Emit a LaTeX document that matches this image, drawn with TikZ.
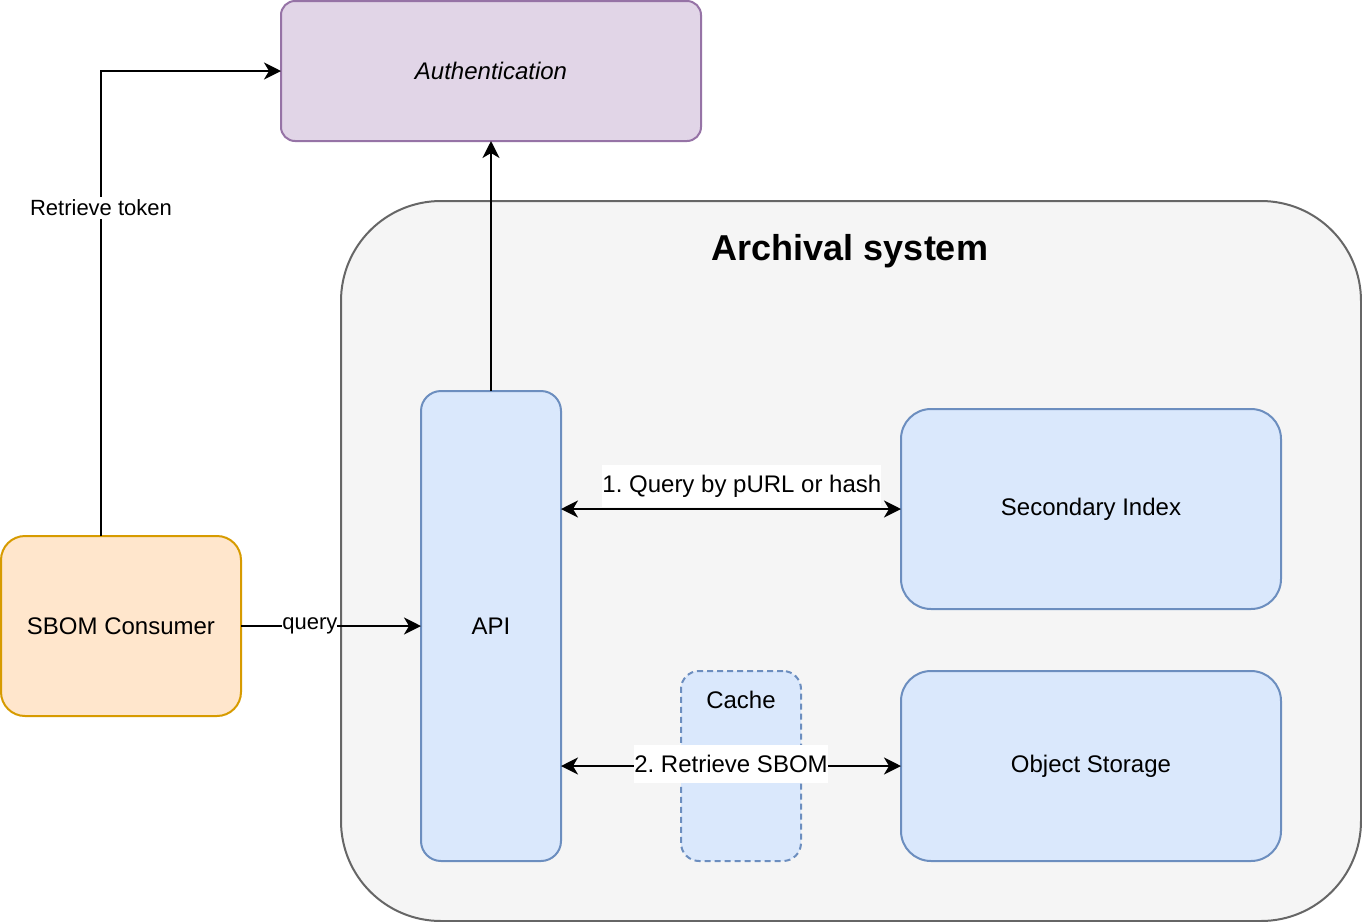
\documentclass[tikz,border=0pt]{standalone}
\usepackage{fontspec}
\setmainfont{Liberation Sans}
\usetikzlibrary{arrows.meta}
\definecolor{authfill}{HTML}{E1D5E7}
\definecolor{authline}{HTML}{9673A6}
\definecolor{sysfill}{HTML}{F5F5F5}
\definecolor{sysline}{HTML}{666666}
\definecolor{bluefill}{HTML}{DAE8FC}
\definecolor{blueline}{HTML}{6C8EBF}
\definecolor{orfill}{HTML}{FFE6CC}
\definecolor{orline}{HTML}{D79B00}
\tikzset{
  box/.style={rectangle, draw, line width=1pt, inner sep=0pt, outer sep=0pt, font=\fontsize{12}{14}\selectfont},
  bluebox/.style={box, fill=bluefill, draw=blueline},
  arr/.style={line width=1pt, -{Stealth[length=8.5pt, width=8.5pt, inset=2.5pt]}},
  darr/.style={line width=1pt, {Stealth[length=8.5pt, width=8.5pt, inset=2.5pt]}-{Stealth[length=8.5pt, width=8.5pt, inset=2.5pt]}},
  elabel/.style={fill=white, inner xsep=0pt, inner ysep=1.5pt, font=\fontsize{11}{13}\selectfont},
  biglabel/.style={fill=white, inner xsep=0pt, inner ysep=5pt, font=\fontsize{12}{14}\selectfont}
}
\begin{document}
\frenchspacing
\begin{tikzpicture}[x=0.5pt, y=-0.5pt]
\useasboundingbox[fill=white] (0,0) rectangle (1362,922);
% archival system container
\node[box, fill=sysfill, draw=sysline, minimum width=510pt, minimum height=360pt, rounded corners=50pt] (sys) at (851,561) {};
\node[font=\bfseries\fontsize{18}{21}\selectfont] (title) at (850,251) {Archival system};
% authentication
\node[box, fill=authfill, draw=authline, minimum width=210pt, minimum height=70pt, rounded corners=7pt, font=\itshape\fontsize{12}{14}\selectfont] (auth) at (491,71) {Authentication};
% API
\node[bluebox, minimum width=70pt, minimum height=235pt, rounded corners=10pt] (api) at (491,626) {API};
% Secondary index
\node[bluebox, minimum width=190pt, minimum height=100pt, rounded corners=15pt] (sec) at (1091,509) {Secondary Index};
% Object storage
\node[bluebox, minimum width=190pt, minimum height=95pt, rounded corners=15pt] (obj) at (1091,766) {Object Storage};
% Cache
\node[bluebox, dashed, dash pattern=on 3pt off 2pt, minimum width=60pt, minimum height=95pt, rounded corners=9pt] (cache) at (741,766) {};
\node[font=\fontsize{12}{14}\selectfont] (cachelbl) at (741,700) {Cache};
% SBOM consumer
\node[box, fill=orfill, draw=orline, minimum width=120pt, minimum height=90pt, rounded corners=12pt] (cons) at (121,626) {SBOM Consumer};
% connectors
\coordinate (tokstart) at ([xshift=-10pt]cons.north);
\draw[arr] (tokstart) |- node[elabel, pos=0.353, inner xsep=1pt] {Retrieve token} (auth.west);
\draw[arr] (api.north) -- (auth.south);
\draw[arr] (cons.east) -- node[elabel, pos=0.383, inner ysep=0pt, inner xsep=0pt] {query} (api.west);
\draw[darr] (api.east |- sec.west) -- node[biglabel, pos=0.532, yshift=11.5pt] {1. Query by pURL or hash} (sec.west);
\draw[darr] (api.east |- obj.west) -- node[biglabel, midway, yshift=1pt] {2. Retrieve SBOM} (obj.west);
\end{tikzpicture}
\end{document}
